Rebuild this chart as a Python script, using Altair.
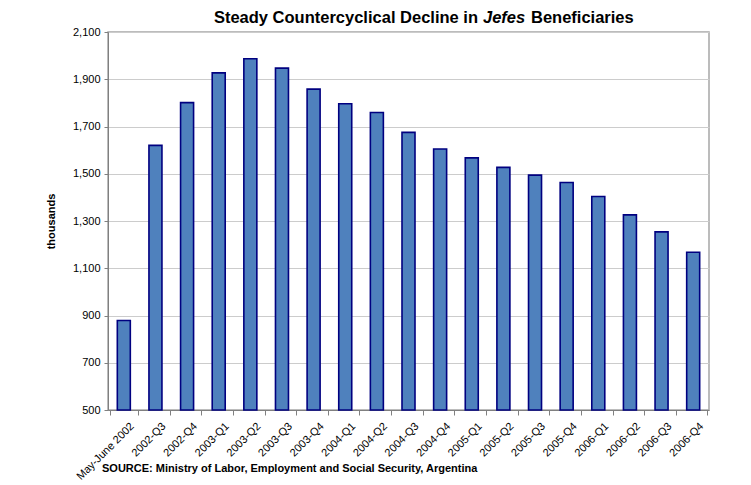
import altair as alt
import pandas as pd

periods = ["May-June 2002", "2002-Q3", "2002-Q4", "2003-Q1", "2003-Q2", "2003-Q3",
           "2003-Q4", "2004-Q1", "2004-Q2", "2004-Q3", "2004-Q4", "2005-Q1",
           "2005-Q2", "2005-Q3", "2005-Q4", "2006-Q1", "2006-Q2", "2006-Q3", "2006-Q4"]
beneficiaries = [879, 1620, 1801, 1927, 1987, 1947, 1858, 1796, 1759, 1675, 1605,
                 1567, 1527, 1494, 1463, 1404, 1326, 1254, 1168]
y_ticks = [500, 700, 900, 1100, 1300, 1500, 1700, 1900, 2100]

title_a = "Steady Countercyclical Decline in"
title_b = "Jefes"
title_c = "Beneficiaries"
source = "SOURCE: Ministry of Labor, Employment and Social Security, Argentina"

FONT = "Liberation Sans"

df = pd.DataFrame({"period": periods, "value": beneficiaries})

bars = alt.Chart(df).mark_bar(
    size=13, fill="#4F81BD", stroke="#000080", strokeWidth=1.6
).encode(
    x=alt.X("period:N", sort=periods, title=None,
            axis=alt.Axis(labelAngle=-45, labelAlign="right", labelBaseline="top",
                          labelPadding=5, labelOffset=4, tickBand="extent", tickSize=5,
                          tickColor="#808080", domainColor="#808080",
                          labelFontSize=11, labelColor="#000000", labelFont=FONT)),
    y=alt.Y("value:Q", scale=alt.Scale(domain=[500, 2100], nice=False, zero=False),
            title="thousands",
            axis=alt.Axis(values=y_ticks, format=",d", tickSize=4, labelPadding=4,
                          tickColor="#808080", domainColor="#808080",
                          gridColor="#cccccc", grid=True,
                          labelFontSize=11, labelColor="#000000", labelFont=FONT,
                          titleFont=FONT, titleFontSize=11, titleFontWeight="bold",
                          titleColor="#000000", titleX=-52, titleY=189, titleAngle=-90)),
    y2=alt.datum(500),
)

def txt(s, x, y, align, italic=False, size=16.5, weight="bold"):
    return alt.Chart(pd.DataFrame({"t": [s]})).mark_text(
        align=align, baseline="alphabetic", font=FONT, fontSize=size,
        fontWeight=weight, fontStyle="italic" if italic else "normal", color="#000000"
    ).encode(text="t:N", x=alt.value(x), y=alt.value(y))

chart = alt.layer(
    bars,
    txt(title_a, 370, -9, "right"),
    txt(title_b, 375, -9, "left", italic=True),
    txt(title_c, 423, -9, "left"),
    txt(source, -6, 440, "left", size=11),
).properties(
    width=601, height=378,
    autosize=alt.AutoSizeParams(type="none"),
    padding={"left": 100, "top": 24, "right": 30, "bottom": 80},
).configure_view(stroke="#a6a6a6", strokeWidth=1.5)

chart.save("out.html", embed_options={"renderer": "svg", "actions": False})
